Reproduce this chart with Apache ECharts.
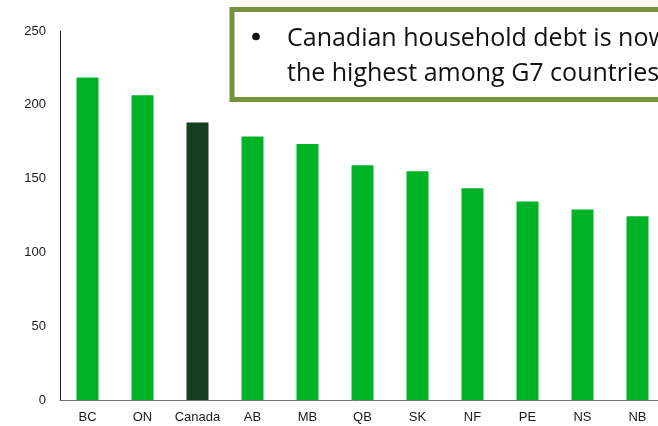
<!DOCTYPE html>
<html>
<head>
<meta charset="utf-8">
<script src="https://cdn.jsdelivr.net/npm/echarts@6/dist/echarts.min.js"></script>
<style>
  html, body { margin: 0; padding: 0; background: #fff; }
  #chart { width: 658px; height: 426px; }
</style>
</head>
<body>
<div id="chart"></div>
<script>
// provinces, sorted by household debt (% of disposable income)
const categories = ['BC', 'ON', 'Canada', 'AB', 'MB', 'QB', 'SK', 'NF', 'PE', 'NS', 'NB'];
const debtValues = [218.5, 206.5, 188, 178.5, 173.5, 159, 155, 143.5, 134.5, 129, 124.5];
const yTicks = [0, 50, 100, 150, 200, 250];
const noteLines = ['Canadian household debt is now', 'the highest among G7 countries'];

const barGreen = '#00b326';
const canadaGreen = '#173d22';
const noteFont = '25px "Open Sans", sans-serif';

const chart = echarts.init(document.getElementById('chart'));

const option = {
  animation: false,
  grid: {
    left: 60,
    top: 31,
    bottom: 26,
    width: 605,   // plot runs past the right edge, NB band gets cut
    outerBoundsMode: 'none',
    containLabel: false
  },
  xAxis: {
    type: 'category',
    data: categories,
    axisLine: { lineStyle: { color: '#777', width: 1 } },
    axisTick: { show: false },
    axisLabel: {
      color: '#1a1a1a',
      fontFamily: 'Liberation Sans, Arial, sans-serif',
      fontSize: 13,
      margin: 11,
      interval: 0
    }
  },
  yAxis: {
    type: 'value',
    min: yTicks[0],
    max: yTicks[yTicks.length - 1],
    interval: 50,
    axisLine: { show: true, lineStyle: { color: '#22291c', width: 1 } },
    axisTick: { show: false },
    splitLine: { show: false },
    axisLabel: {
      color: '#1a1a1a',
      fontFamily: 'Liberation Sans, Arial, sans-serif',
      fontSize: 13,
      margin: 14
    }
  },
  series: [{
    type: 'bar',
    barWidth: '40%',
    data: debtValues.map((v, i) => ({
      value: v,
      itemStyle: { color: categories[i] === 'Canada' ? canadaGreen : barGreen }
    }))
  }],
  graphic: [{
    type: 'rect',
    shape: { x: 232, y: 9.5, width: 500, height: 90 },
    style: { fill: '#fff', stroke: '#76923c', lineWidth: 5 },
    z: 100
  }, {
    type: 'circle',
    shape: { cx: 256, cy: 36.5, r: 3.8 },
    style: { fill: '#111' },
    z: 101
  }, {
    type: 'text',
    x: 287,
    y: 39,
    style: {
      text: noteLines[0],
      font: noteFont,
      verticalAlign: 'middle',
      fill: '#111'
    },
    z: 101
  }, {
    type: 'text',
    x: 287,
    y: 73.5,
    style: {
      text: noteLines[1],
      font: noteFont,
      verticalAlign: 'middle',
      fill: '#111'
    },
    z: 101
  }]
};

chart.setOption(option);
</script>
</body>
</html>
